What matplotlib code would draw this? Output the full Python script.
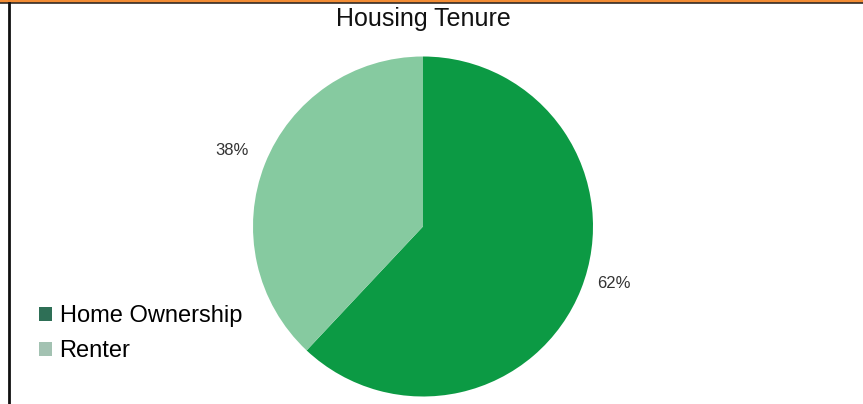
import matplotlib
matplotlib.use("Agg")
import matplotlib.pyplot as plt
from matplotlib.lines import Line2D
from matplotlib.patches import Patch

# -- Data ------------------------------------------------------------------
categories = ["Home Ownership", "Renter"]
shares = [62, 38]
slice_colors = ["#0c9a44", "#86caa0"]
legend_colors = ["#2e6f56", "#a3c2b2"]

plt.rcParams["font.family"] = ["Liberation Sans", "DejaVu Sans"]

W, H = 863, 404
fig = plt.figure(figsize=(W / 100, H / 100), dpi=100)
fig.patch.set_facecolor("white")

# -- Frame lines (orange top rule, black rules) -----------------------------
fig.add_artist(Line2D([0, 1], [1 - 1.3 / H, 1 - 1.3 / H], color="#f28c34", lw=2.4))
fig.add_artist(Line2D([0, 1], [1 - 3.4 / H, 1 - 3.4 / H], color="#222222", lw=1.1))
fig.add_artist(Line2D([8.5 / W, 8.5 / W], [0, 1 - 3 / H], color="#111111", lw=2.0))

# -- Pie --------------------------------------------------------------------
cx, cy, r = 423, 226.5, 170
ax = fig.add_axes([(cx - r) / W, (H - cy - r) / H, 2 * r / W, 2 * r / H])
wedges, _, autotexts = ax.pie(
    shares, colors=slice_colors, startangle=90, counterclock=False,
    autopct="%1.0f%%", pctdistance=1.21,
    textprops=dict(fontsize=12, color="#333333"),
)
ax.set_xlim(-1, 1)
ax.set_ylim(-1, 1)
ax.set_aspect("equal")
ax.axis("off")
# nudge the ownership label up a bit, like the original
x, y = autotexts[0].get_position()
autotexts[0].set_position((x, y + 0.11))

fig.text(cx / W, 1 - 19 / H, "Housing Tenure", ha="center", va="center",
         fontsize=18, color="#111111")

# -- Legend -----------------------------------------------------------------
handles = [Patch(facecolor=c, edgecolor="none") for c in legend_colors]
fig.legend(handles, categories, loc="upper left", bbox_to_anchor=(30 / W, 1 - 296 / H),
           frameon=False, fontsize=17, handlelength=0.55, handleheight=0.55,
           handletextpad=0.3, labelspacing=0.55, borderaxespad=0)

fig.savefig("out.png", dpi=100)
